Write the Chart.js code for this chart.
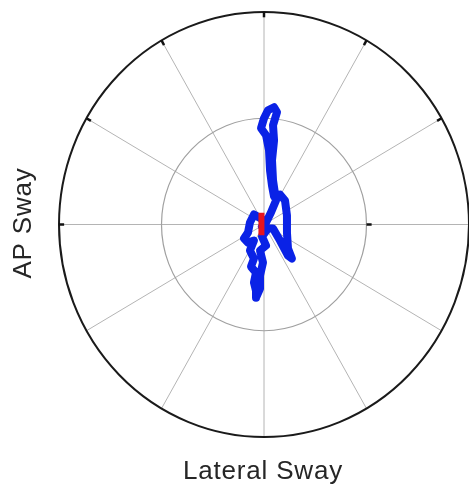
<!DOCTYPE html>
<html>
<head>
<meta charset="utf-8">
<script src="https://cdn.jsdelivr.net/npm/chart.js@4/dist/chart.umd.min.js"></script>
<style>
html,body{margin:0;padding:0;background:#fff;}
#wrap{width:469px;height:486px;}
</style>
</head>
<body>
<div id="wrap"><canvas id="c" width="469" height="486"></canvas></div>
<script>
// Polar grid definition
const ringValues = [10, 20];
const spokeAngles = [0, 30, 60, 90, 120, 150, 180, 210, 240, 270, 300, 330];
const tickAnglesOuter = [30, 60, 90, 120, 150, 180];
const axisTitleX = 'Lateral Sway';
const axisTitleY = 'AP Sway';

// Sway path (lateral, AP)
const swayX = [-0.29,-0.98,-1.37,-1.56,-1.95,-1.56,-0.98,-1.37,-0.98,-1.27,-0.78,-0.98,-0.78,-0.78,-0.39,-0.39,-0.10,-0.39,0.20,-0.20,0.39,0.88,1.56,2.34,2.73,2.34,2.24,2.24,2.05,1.56,0.98,0.78,0.59,0.49,0.20,-0.29,0.00,0.39,0.98,1.27,0.88,0.98,0.78,0.88,1.17,0.68,0.20,-0.20];
const swayY = [0.57,0.94,0.19,-0.75,-1.32,-1.70,-1.51,-2.45,-3.21,-3.96,-4.53,-5.47,-6.23,-6.89,-6.04,-4.81,-3.58,-2.45,-1.98,-1.13,-0.38,-0.38,-1.51,-2.92,-3.21,-2.26,-0.75,0.85,2.26,2.83,2.64,3.68,5.09,6.98,8.40,9.06,10.00,10.75,11.04,10.57,9.34,7.92,6.04,4.15,2.26,1.13,0.19,-0.19];
// Centre of pressure mean segment
const meanX = [-0.25, -0.25];
const meanY = [1.1, -1.0];

const toPts = (xs, ys) => xs.map((x, i) => ({x: x, y: ys[i]}));
const R = ringValues[ringValues.length - 1];

const polarGrid = {
  id: 'polarGrid',
  beforeDatasetsDraw(chart) {
    const {ctx, scales: {x, y}} = chart;
    const cx = x.getPixelForValue(0), cy = y.getPixelForValue(0);
    const rx = (v) => Math.abs(x.getPixelForValue(v) - cx);
    const ry = (v) => Math.abs(y.getPixelForValue(v) - cy);
    ctx.save();
    ctx.strokeStyle = '#b4b4b4';
    ctx.lineWidth = 1;
    spokeAngles.forEach(a => {
      const t = a * Math.PI / 180;
      ctx.beginPath();
      ctx.moveTo(cx, cy);
      ctx.lineTo(x.getPixelForValue(R * Math.cos(t)), y.getPixelForValue(R * Math.sin(t)));
      ctx.stroke();
    });
    ringValues.slice(0, -1).forEach(v => {
      ctx.strokeStyle = '#a0a0a0';
      ctx.lineWidth = 1.2;
      ctx.beginPath();
      ctx.ellipse(cx, cy, rx(v), ry(v), 0, 0, Math.PI * 2);
      ctx.stroke();
    });
    ctx.strokeStyle = '#1a1a1a';
    ctx.lineWidth = 2;
    ctx.beginPath();
    ctx.ellipse(cx, cy, rx(R), ry(R), 0, 0, Math.PI * 2);
    ctx.stroke();
    ctx.strokeStyle = '#111';
    ctx.lineWidth = 2.5;
    tickAnglesOuter.forEach(a => {
      const t = a * Math.PI / 180;
      ctx.beginPath();
      ctx.moveTo(x.getPixelForValue(R * Math.cos(t)), y.getPixelForValue(R * Math.sin(t)));
      ctx.lineTo(x.getPixelForValue(R * 0.975 * Math.cos(t)), y.getPixelForValue(R * 0.975 * Math.sin(t)));
      ctx.stroke();
    });
    const ri = ringValues[0];
    ctx.beginPath();
    ctx.moveTo(x.getPixelForValue(ri * 1.0), cy);
    ctx.lineTo(x.getPixelForValue(ri * 1.05), cy);
    ctx.stroke();
    ctx.restore();
  },
  afterDraw(chart) {
    const {ctx} = chart;
    ctx.save();
    ctx.fillStyle = '#262626';
    ctx.font = '26px "Liberation Sans", Arial, sans-serif';
    try { ctx.letterSpacing = '0.8px'; } catch (e) {}
    ctx.textAlign = 'center';
    ctx.textBaseline = 'alphabetic';
    ctx.fillText(axisTitleX, 263, 479);
    ctx.translate(31, 223);
    ctx.rotate(-Math.PI / 2);
    ctx.fillText(axisTitleY, 0, 0);
    ctx.restore();
  }
};

new Chart(document.getElementById('c'), {
  type: 'scatter',
  data: {
    datasets: [
      {
        data: toPts(swayX, swayY),
        showLine: true,
        borderColor: '#0a22e6',
        borderWidth: 8,
        pointRadius: 0,
        borderJoinStyle: 'round',
        borderCapStyle: 'round',
        tension: 0,
        order: 1,
        clip: false
      },
      {
        data: toPts(meanX, meanY),
        showLine: true,
        borderColor: '#e8141e',
        borderWidth: 6,
        pointRadius: 0,
        order: 0,
        clip: false
      }
    ]
  },
  options: {
    responsive: false,
    animation: false,
    devicePixelRatio: 1,
    layout: {padding: {left: 59, right: 0, top: 12, bottom: 49}},
    plugins: {legend: {display: false}, tooltip: {enabled: false}},
    scales: {
      x: {type: 'linear', min: -R, max: R, display: false},
      y: {type: 'linear', min: -R, max: R, display: false}
    }
  },
  plugins: [polarGrid]
});
</script>
</body>
</html>
